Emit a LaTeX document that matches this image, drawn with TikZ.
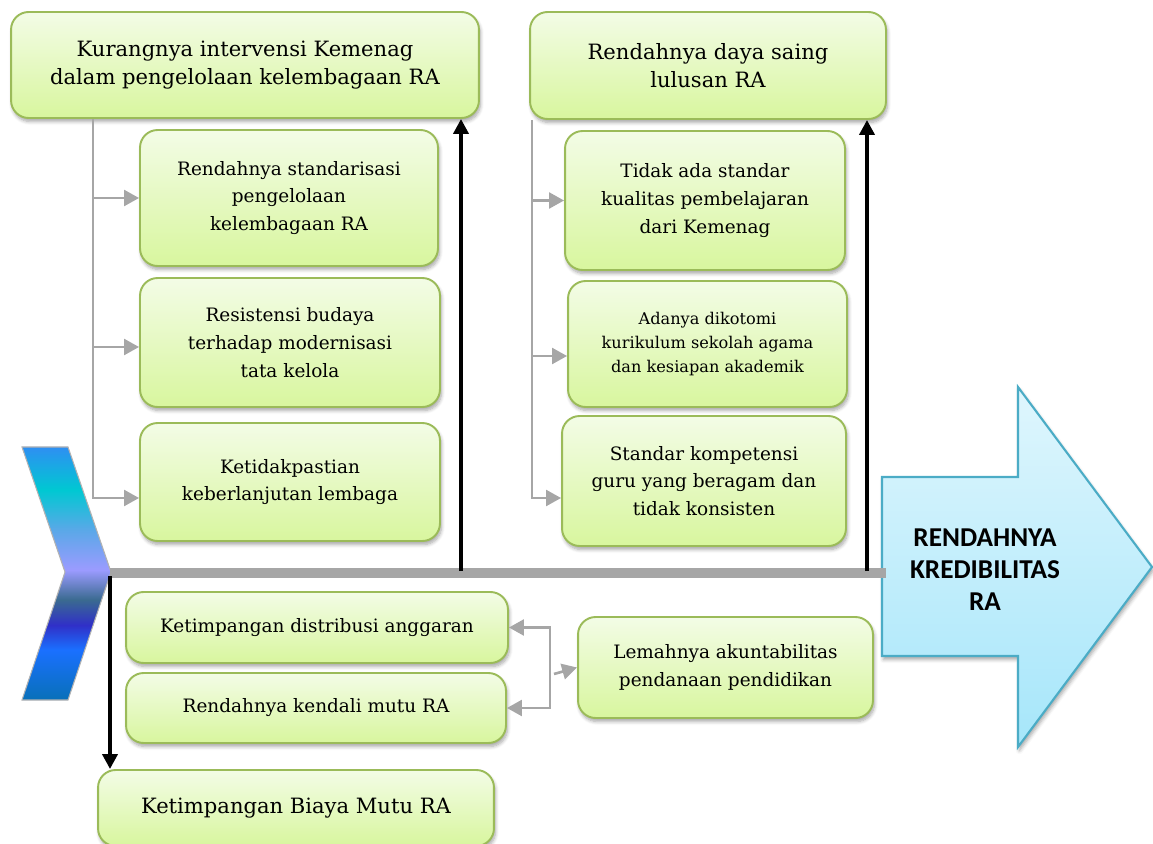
\documentclass[tikz,border=0pt]{standalone}
\usepackage{fontspec}
\setmainfont{DejaVu Serif}
\newfontfamily\effectfont{Carlito}
\usetikzlibrary{positioning}
\usetikzlibrary{arrows.meta}
\usetikzlibrary{shadows.blur}
\definecolor{boxline}{RGB}{155,187,89}
\definecolor{boxtop}{RGB}{243,252,230}
\definecolor{boxbottom}{RGB}{216,246,158}
\definecolor{branchgray}{RGB}{166,166,166}
\definecolor{effectline}{RGB}{75,172,198}
\definecolor{effecttop}{RGB}{223,246,253}
\definecolor{effectbottom}{RGB}{166,230,250}
\definecolor{headA}{RGB}{46,143,242}
\definecolor{headB}{RGB}{0,200,210}
\definecolor{headC}{RGB}{90,168,232}
\definecolor{headD}{RGB}{155,155,255}
\definecolor{headE}{RGB}{58,106,144}
\definecolor{headF}{RGB}{48,48,200}
\definecolor{headG}{RGB}{26,112,255}
\definecolor{headH}{RGB}{8,112,184}
\pgfdeclareverticalshading{headshade}{100bp}{color(0bp)=(headH); color(25bp)=(headH);
  color(34.9bp)=(headG); color(39.8bp)=(headF); color(44.8bp)=(headE);
  color(50.7bp)=(headD); color(58.6bp)=(headC); color(66.5bp)=(headB);
  color(75bp)=(headA); color(100bp)=(headA)}
\tikzset{
  causebox/.style={draw=boxline, line width=1.1pt, rounded corners=10pt,
    top color=boxtop, bottom color=boxbottom, align=center, inner sep=2pt,
    blur shadow={shadow xshift=0.8pt, shadow yshift=-2pt, shadow opacity=35,
      shadow blur radius=2pt, shadow blur steps=6}},
  midtext/.style={font=\fontsize{10.5}{15.8}\selectfont},
  bigtext/.style={font=\fontsize{12}{16.2}\selectfont},
  smalltext/.style={font=\fontsize{9.2}{13.9}\selectfont},
  effecttext/.style={font=\effectfont\bfseries\fontsize{15.5}{18.2}\selectfont, align=center},
  spine/.style={draw=branchgray, line width=5.5pt},
  mainarrow/.style={draw=black, line width=2.2pt, -{Triangle[length=8.5pt,width=8.5pt]}},
  branch/.style={draw=branchgray, line width=1.5pt, -{Triangle[length=8.5pt,width=9pt]}},
  branchboth/.style={draw=branchgray, line width=1.5pt,
    {Triangle[length=8.5pt,width=9pt]}-{Triangle[length=8.5pt,width=9pt]}}
}
\begin{document}
\begin{tikzpicture}[x=0.02cm, y=-0.02cm]
    \useasboundingbox (0,0) rectangle (1153,844);
    \clip (0,0) rectangle (1153,844);

    % head of the fish
    \shade[shading=headshade, draw=gray!60, line width=0.6pt]
        (22,447) -- (68,447) -- (111,572) -- (68,700) -- (22,700) -- (65,572) -- cycle;

    % effect
    \path[draw=effectline, line width=1.2pt, top color=effecttop, bottom color=effectbottom,
        blur shadow={shadow xshift=0.8pt, shadow yshift=-2pt, shadow opacity=35}]
        (882,477) -- (1018,477) -- (1018,387) -- (1152,567) -- (1018,747) -- (1018,656) -- (882,656) -- cycle;
    \node[effecttext] (effect) at (985,570) {RENDAHNYA\\KREDIBILITAS\\RA};

    % spine
    \coordinate (spineStart) at (110,573);
    \coordinate (spineEnd) at (886,573);
    \draw[spine] (spineStart) -- (spineEnd);

    % causes above the spine
    \node[causebox, bigtext, minimum width=9.36cm, minimum height=2.12cm] (kemenag) at (245,65)
        {Kurangnya intervensi Kemenag\\dalam pengelolaan kelembagaan RA};
    \node[causebox, midtext, minimum width=5.96cm, minimum height=2.72cm] (standar) at (289,198)
        {Rendahnya standarisasi\\pengelolaan\\kelembagaan RA};
    \node[causebox, midtext, minimum width=6cm, minimum height=2.58cm] (budaya) at (290,342.5)
        {Resistensi budaya\\terhadap modernisasi\\tata kelola};
    \node[causebox, midtext, minimum width=6cm, minimum height=2.36cm] (lembaga) at (290,482)
        {Ketidakpastian\\keberlanjutan lembaga};

    \node[causebox, bigtext, minimum width=7.12cm, minimum height=2.14cm] (dayasaing) at (708,65.5)
        {Rendahnya daya saing\\lulusan RA};
    \node[causebox, midtext, minimum width=5.6cm, minimum height=2.78cm] (kualitas) at (705,200.5)
        {Tidak ada standar\\kualitas pembelajaran\\dari Kemenag};
    \node[causebox, smalltext, minimum width=5.58cm, minimum height=2.52cm] (dikotomi) at (707.5,344)
        {Adanya dikotomi\\kurikulum sekolah agama\\dan kesiapan akademik};
    \node[causebox, midtext, minimum width=5.68cm, minimum height=2.6cm] (kompetensi) at (704,481)
        {Standar kompetensi\\guru yang beragam dan\\tidak konsisten};

    % causes below the spine
    \node[causebox, midtext, minimum width=7.64cm, minimum height=1.42cm] (anggaran) at (317,627.5)
        {Ketimpangan distribusi anggaran};
    \node[causebox, midtext, minimum width=7.6cm, minimum height=1.4cm] (kendali) at (316,708)
        {Rendahnya kendali mutu RA};
    \node[causebox, bigtext, minimum width=7.92cm, minimum height=1.52cm] (biaya) at (296,808)
        {Ketimpangan Biaya Mutu RA};
    \node[causebox, midtext, minimum width=5.9cm, minimum height=2.02cm] (akuntabilitas) at (725.5,667.5)
        {Lemahnya akuntabilitas\\pendanaan pendidikan};

    % sub-cause branches
    \coordinate (trunkL) at (93,0);
    \coordinate (trunkR) at (532,0);
    \coordinate (budayaIn) at ([yshift=-0.09cm]budaya.west);
    \coordinate (lembagaIn) at ([yshift=-0.32cm]lembaga.west);
    \coordinate (dikotomiIn) at ([yshift=-0.24cm]dikotomi.west);
    \coordinate (kompetensiIn) at ([yshift=-0.34cm]kompetensi.west);
    \draw[branch] (kemenag.south -| trunkL) |- (lembagaIn);
    \draw[branch] (trunkL |- standar.west) -- (standar.west);
    \draw[branch] (trunkL |- budayaIn) -- (budayaIn);
    \draw[branch] (dayasaing.south -| trunkR) |- (kompetensiIn);
    \draw[branch] (trunkR |- kualitas.west) -- (kualitas.west);
    \draw[branch] (trunkR |- dikotomiIn) -- (dikotomiIn);

    \coordinate (bracket) at (550,0);
    \coordinate (bracketOut) at (554,674);
    \draw[branchboth] (anggaran.east) -- (anggaran.east -| bracket) -- (kendali.east -| bracket) -- (kendali.east);
    \draw[branch] (bracketOut) -- (akuntabilitas.west);

    % bones to the spine
    \coordinate (jointL) at (461,571);
    \coordinate (jointR) at (867,571);
    \coordinate (jointD) at (110,576);
    \draw[mainarrow] (jointL) -- (jointL |- kemenag.south);
    \draw[mainarrow] (jointR) -- (jointR |- dayasaing.south);
    \draw[mainarrow] (jointD) -- (jointD |- biaya.north);
\end{tikzpicture}
\end{document}
